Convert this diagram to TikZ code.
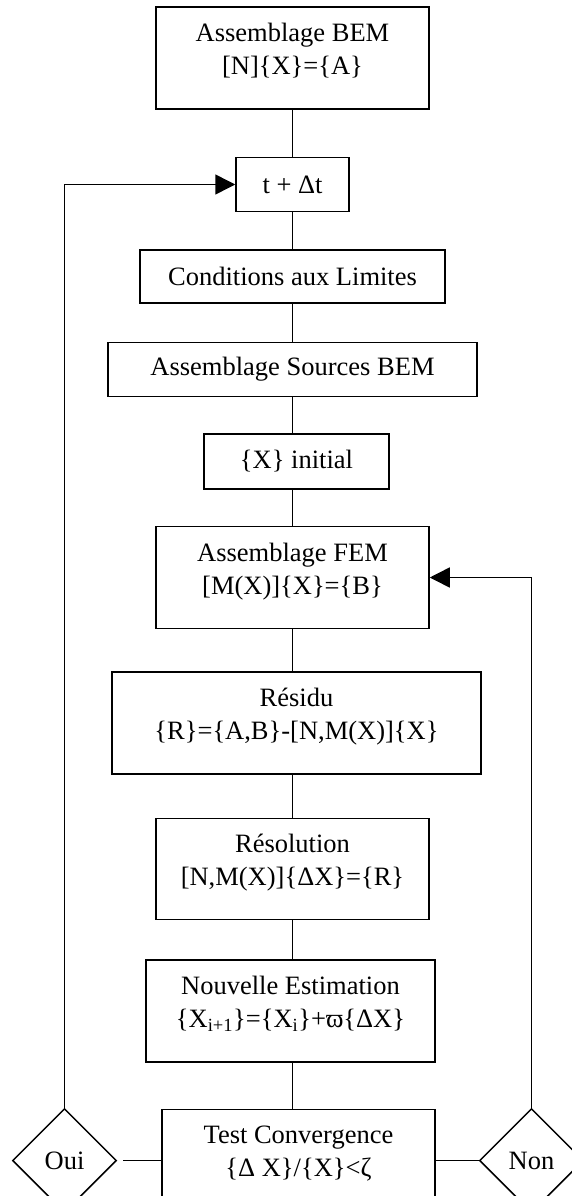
\documentclass[tikz,border=0pt]{standalone}
\usepackage{fontspec}
\setmainfont{Liberation Serif}
\usetikzlibrary{shapes.geometric,arrows.meta,positioning}

\begin{document}
\begin{tikzpicture}[
  x=1pt, y=-1pt,
  box/.style={draw, line width=1.5pt, align=center, inner sep=0pt,
              font=\fontsize{26.5}{33}\selectfont},
  tall/.style={box, minimum width=273pt, minimum height=102pt, text depth=18pt},
  gate/.style={draw, diamond, aspect=1, line width=1.5pt, inner sep=0pt,
               minimum width=104pt, minimum height=104pt,
               font=\fontsize{26.5}{33}\selectfont},
  link/.style={line width=1.5pt},
  arr/.style={-{Triangle[length=20pt, width=20pt]}, line width=1.5pt}
]
\useasboundingbox (0,0) rectangle (572,1196);
\clip (0,0) rectangle (572,1196);
\node[tall] (bem) at (292.5,58)
  {Assemblage BEM\\{[N]}\{X\}=\{A\}};
\node[box, minimum width=113pt, minimum height=54pt, below=47pt of bem] (dt)
  {t + Δt};
\node[box, minimum width=305pt, minimum height=53pt, below=37pt of dt] (lim)
  {Conditions aux Limites};
\node[box, minimum width=369pt, minimum height=54pt, below=38pt of lim] (src)
  {Assemblage Sources BEM};
\node[box, minimum width=185pt, minimum height=55pt, below=36pt of src,
      xshift=4pt] (init)
  {\{X\} initial};
\node[tall, below=36pt of init, xshift=-4pt] (fem)
  {Assemblage FEM\\{[M(X)]}\{X\}=\{B\}};
\node[tall, minimum width=369pt, below=42pt of fem, xshift=4pt] (res)
  {Résidu\\\{R\}=\{A,B\}-[N,M(X)]\{X\}};
\node[tall, minimum height=101pt, below=43pt of res, xshift=-4pt] (sol)
  {Résolution\\{[N,M(X)]}\{ΔX\}=\{R\}};
\node[tall, minimum width=289pt, below=39pt of sol, xshift=-2pt] (est)
  {Nouvelle Estimation\\\{X\textsubscript{i+1}\}=\{X\textsubscript{i}\}+ϖ\{ΔX\}};
\node[tall, below=46pt of est, xshift=8pt] (conv)
  {Test Convergence\\\{Δ X\}/\{X\}<ζ};
\node[gate, left=44pt of conv] (oui) {Oui};
\node[gate, right=43pt of conv] (non) {Non};
% main chain
\draw[link] (bem) -- (dt);
\draw[link] (dt) -- (lim);
\draw[link] (lim) -- (src);
\draw[link] (src.south) -- (init.north -| src);
\draw[link] (init.south -| src) -- (fem);
\draw[link] (fem) -- (res.north -| fem);
\draw[link] (res.south -| fem) -- (sol);
\draw[link] (sol) -- (est.north -| sol);
\draw[link] (est.south -| sol) -- (conv.north -| sol);
% test outcomes
\draw[link, shorten <=6pt] (oui) -- (conv);
\draw[link] (non) -- (conv);
\draw[arr] (oui.north) |- (dt.west);
\draw[arr] (non.north) |- (fem.east);
\end{tikzpicture}
\end{document}
